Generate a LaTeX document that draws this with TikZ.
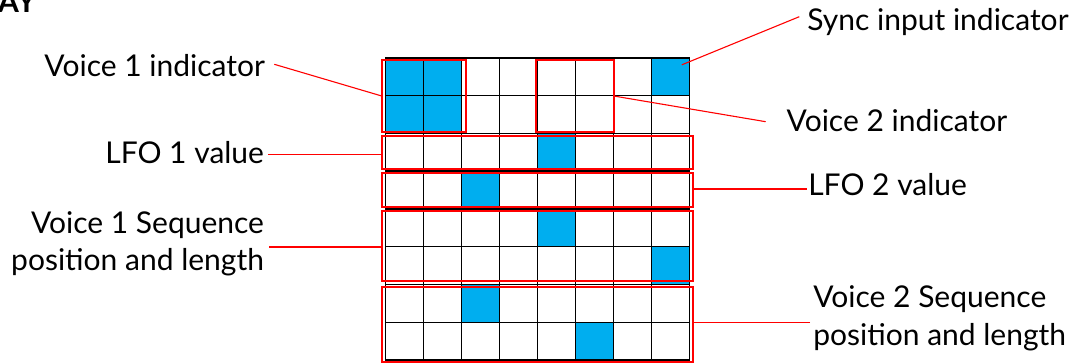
\documentclass[tikz,border=0pt]{standalone}
\usepackage{fontspec}
\setmainfont{Lato}
\usetikzlibrary{calc}
\definecolor{cellblue}{HTML}{00AEEF}
\begin{document}
\begin{tikzpicture}[x=1pt,y=-1pt,
  lab/.style={font=\fontsize{30}{37.4}\selectfont, inner sep=0pt, outer sep=0pt, text=black},
  cell/.style={draw=black, line width=1.5pt, minimum width=38pt, minimum height=37.75pt, inner sep=0pt, outer sep=0pt},
  oncell/.style={fill=cellblue},
  redbox/.style={draw=red, line width=2.3pt, inner sep=0pt, outer sep=0pt},
  conn/.style={draw=red, line width=1.1pt}]
\useasboundingbox (0,0) rectangle (1070,363);
% title fragment
\node[font=\fontsize{30}{36}\selectfont\bfseries, anchor=base west, inner sep=0pt] (title) at (-2,13) {AY};
% grid cells
\foreach \r in {0,...,7}{
  \foreach \c in {0,...,7}{
    \node[cell] (c\r\c) at ({404.7+38*\c},{76.875+37.75*\r}) {};
  }
}
\foreach \r/\c in {0/0,0/1,0/7,1/0,1/1,2/4,3/2,4/4,5/7,6/2,7/5}{
  \node[cell,oncell] (b\r\c) at ({404.7+38*\c},{76.875+37.75*\r}) {};
}
% red boxes
\node[redbox, minimum width=84pt, minimum height=72pt] (v1box) at (423.7,96) {};
\node[redbox, minimum width=77.4pt, minimum height=72pt] (v2box) at (575,96) {};
\node[redbox, minimum width=311.6pt, minimum height=33pt] (lfo1box) at (537.5,152.2) {};
\node[redbox, minimum width=311.6pt, minimum height=34.6pt] (lfo2box) at (537.5,190) {};
\node[redbox, minimum width=311.6pt, minimum height=70.3pt] (v1seqbox) at (537.5,245.85) {};
\node[redbox, minimum width=311.6pt, minimum height=74.4pt] (v2seqbox) at (537.5,324.5) {};
% labels
\node[lab, anchor=base east] (v1lab) at (265,77) {Voice 1 indicator};
\node[lab, anchor=base east] (lfo1lab) at (264,163.3) {LFO 1 value};
\node[lab, anchor=base east, align=right] (v1seqlab) at (264,270.7) {Voice 1 Sequence\\position and length};
\node[lab, anchor=base west] (synclab) at (807.3,30.7) {Sync input indicator};
\node[lab, anchor=base west] (v2lab) at (786.7,131.7) {Voice 2 indicator};
\node[lab, anchor=base west] (lfo2lab) at (808.3,196) {LFO 2 value};
\node[lab, anchor=base west, align=left] (v2seqlab) at (813.3,345) {Voice 2 Sequence\\position and length};
% connectors
\draw[conn] ($(synclab.base west)+(-8,-14)$) -- ($(b07.center)+(11,-12)$);
\draw[conn] ($(v1lab.base east)+(9.3,-12.7)$) -- (v1box.west);
\draw[conn] ($(v2lab.base west)+(-21,-10)$) -- (v2box.east);
\draw[conn] ($(lfo1lab.base east)+(4,-9)$) coordinate (l1s) -- (l1s -| lfo1box.west);
\draw[conn] ($(lfo2lab.base west)+(-1.6,-7)$) coordinate (l2s) -- (l2s -| lfo2box.east);
\draw[conn] ($(v1seqlab.base east)+(5.3,-23.7)$) coordinate (s1s) -- (s1s -| v1seqbox.west);
\draw[conn] ($(v2seqlab.base west)+(-3.3,-22.7)$) coordinate (s2s) -- (s2s -| v2seqbox.east);
\end{tikzpicture}
\end{document}
